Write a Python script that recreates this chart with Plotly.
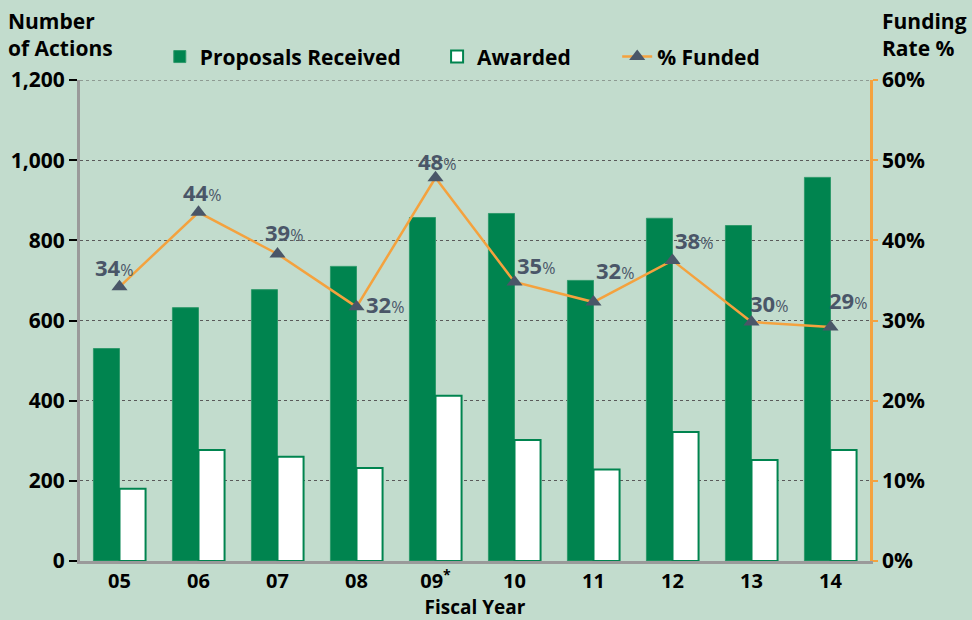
import plotly.graph_objects as go

# ---- data ----
years = ["05", "06", "07", "08", "09<sup>*</sup>", "10", "11", "12", "13", "14"]
proposals_received = [530, 632, 677, 735, 857, 867, 700, 855, 837, 957]
awarded = [180, 277, 260, 232, 412, 302, 228, 322, 252, 277]
pct_funded = [34.2, 43.5, 38.3, 31.7, 47.8, 34.8, 32.3, 37.5, 29.8, 29.2]
pct_labels = ["34", "44", "39", "32", "48", "35", "32", "38", "30", "29"]
y_max = 1200

# ---- styles ----
BG = "#c2dccd"
GREEN = "#00844f"
ORANGE = "#f4a23e"
SLATE = "#4a5668"
FONT = "Open Sans"

label_offsets = [(-6, 20), (3, 20), (6, 22), (28, 3), (1, 17),
                 (21, 17), (21, 32), (21, 20), (17, 19), (17, 27)]

fig = go.Figure()
fig.add_trace(go.Bar(
    x=years, y=proposals_received, name="Proposals Received", legend="legend",
    marker=dict(color=GREEN, line=dict(color="#2f9a6b", width=1)),
))
fig.add_trace(go.Bar(
    x=years, y=awarded, name="Awarded", legend="legend2",
    marker=dict(color="white", line=dict(color=GREEN, width=2)),
))
fig.add_trace(go.Scatter(
    x=years, y=pct_funded, name="% Funded", yaxis="y2", legend="legend3",
    mode="lines+markers",
    line=dict(color=ORANGE, width=2.5),
    marker=dict(symbol="triangle-up", size=14, color=SLATE),
))

for i, (yv, lab, (dx, dy)) in enumerate(zip(pct_funded, pct_labels, label_offsets)):
    fig.add_annotation(
        x=i, y=yv, xref="x", yref="y2",
        text=f"<b>{lab}</b><span style='font-size:16px'>%</span>",
        showarrow=False, xshift=dx, yshift=dy,
        font=dict(family=FONT, size=22, color=SLATE),
    )

fig.add_annotation(
    x=-0.094, y=1.156, xref="paper", yref="paper", xanchor="left", yanchor="top",
    text="<b>Number<br>of Actions</b>", align="left", showarrow=False,
    font=dict(family=FONT, size=21, color="black"),
)
fig.add_annotation(
    x=1.0127, y=1.156, xref="paper", yref="paper", xanchor="left", yanchor="top",
    text="<b>Funding<br>Rate %</b>", align="left", showarrow=False,
    font=dict(family=FONT, size=21, color="black"),
)

# dotted gridline along the top edge of the plot
fig.add_shape(
    type="line", xref="paper", yref="y", x0=0, x1=1, y0=y_max, y1=y_max,
    line=dict(color="#5a5a5a", width=1, dash="dot"), layer="below",
)

leg_common = dict(
    orientation="h", y=1.048, xanchor="left", yanchor="middle",
    bgcolor="rgba(0,0,0,0)",
    font=dict(family=FONT, size=21, color="black", weight="bold"),
)

tickfont = dict(family=FONT, size=21, color="black", weight="bold")

fig.update_layout(
    width=972, height=620,
    paper_bgcolor=BG, plot_bgcolor=BG,
    margin=dict(l=80, r=102, t=80, b=59, autoexpand=False),
    barmode="group", bargap=0.34, bargroupgap=0,
    font=dict(family=FONT, size=19, color="black"),
    showlegend=True,
    legend=dict(x=0.101, **leg_common),
    legend2=dict(x=0.452, **leg_common),
    legend3=dict(x=0.680, **leg_common),
    xaxis=dict(
        type="category", range=[-0.5, 9.5], automargin=False,
        showline=True, linecolor="#9a9a9a", linewidth=3,
        ticks="", showgrid=False,
        tickfont=dict(family=FONT, size=20, color="black", weight="bold"),
        title=dict(text="<b>Fiscal Year</b>", standoff=10,
                   font=dict(family=FONT, size=19, color="black")),
    ),
    yaxis=dict(
        range=[0, y_max], dtick=200, tickformat=",", automargin=False,
        showline=True, linecolor="#9a9a9a", linewidth=3,
        ticks="outside", ticklen=8, tickwidth=2, tickcolor="black",
        showgrid=True, gridcolor="#5a5a5a", gridwidth=1, griddash="dot",
        zeroline=False,
        tickfont=tickfont,
    ),
    yaxis2=dict(
        range=[0, 60], dtick=10, ticksuffix="%", automargin=False,
        overlaying="y", side="right",
        showline=True, linecolor=ORANGE, linewidth=2.5,
        ticks="outside", ticklen=5, tickwidth=2, tickcolor=ORANGE,
        showgrid=False, zeroline=False,
        tickfont=tickfont,
    ),
)

fig.write_html(
    "out.html",
    config={"displayModeBar": False},
    post_script="document.body.style.margin='0';document.body.style.overflow='hidden';",
)
